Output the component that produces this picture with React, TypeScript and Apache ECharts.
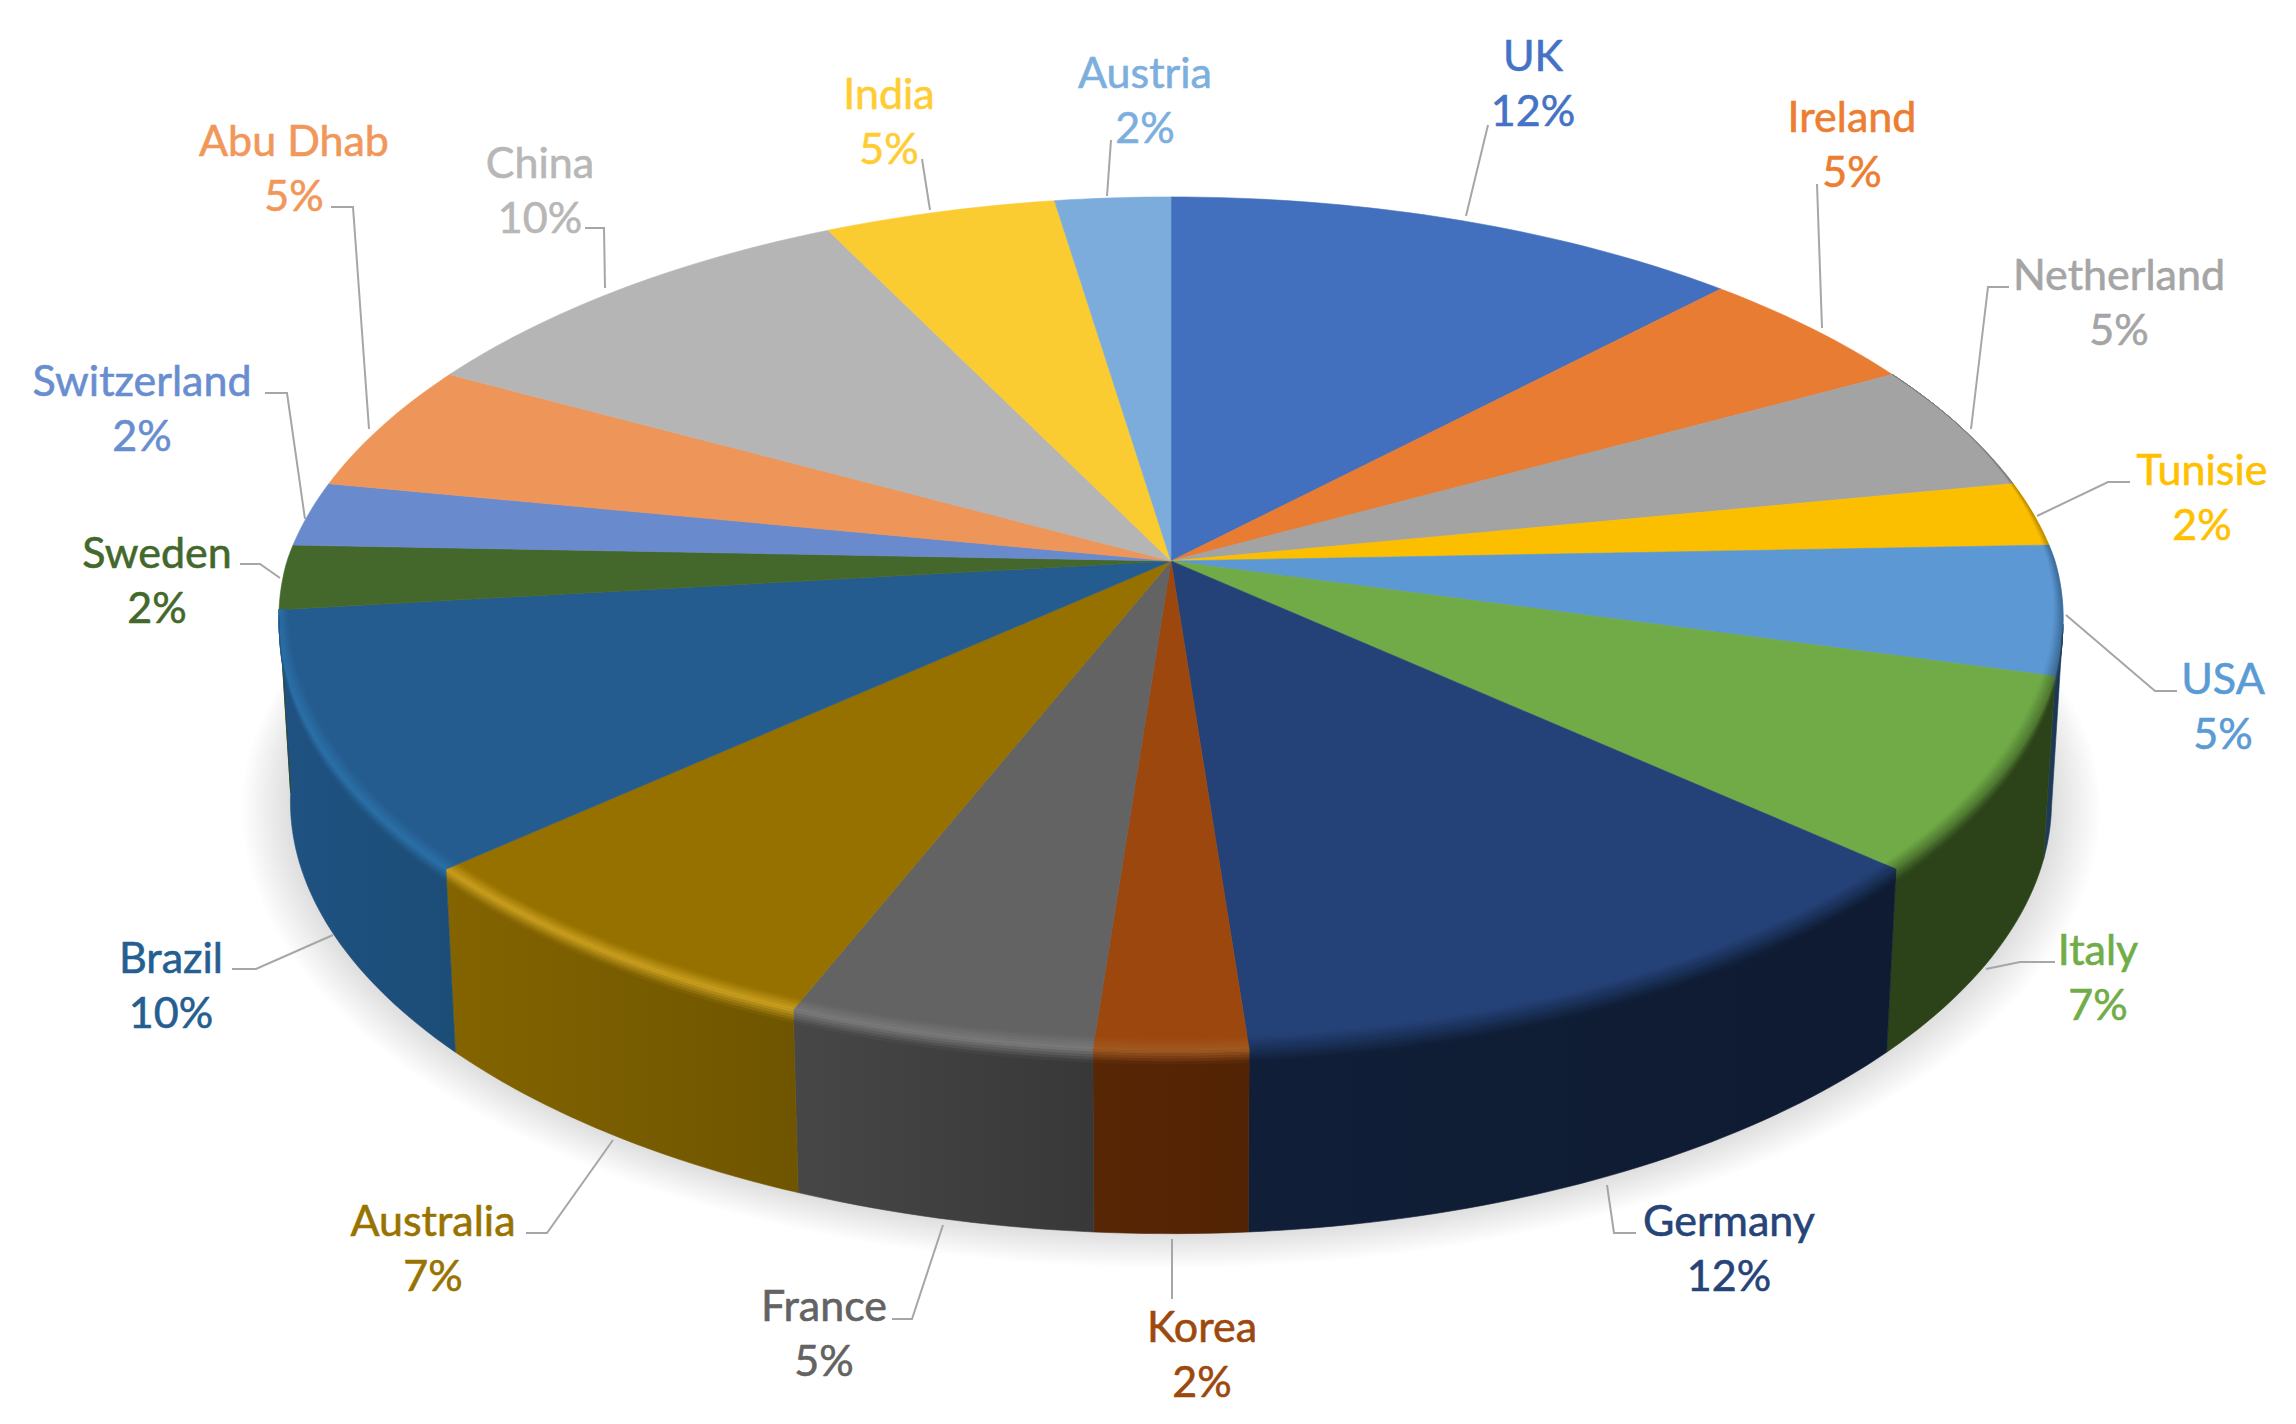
import React, { useEffect, useRef } from "react";
import * as echarts from "echarts";

// ---- data ----
const categories = ["UK", "Ireland", "Netherland", "Tunisie", "USA", "Italy", "Germany", "Korea", "France", "Australia", "Brazil", "Sweden", "Switzerland", "Abu Dhab", "China", "India", "Austria"];
const values = [5, 2, 2, 1, 2, 3, 5, 1, 2, 3, 4, 1, 1, 2, 4, 2, 1];

// ---- styles ----
const topColors = ["#4270be", "#e87c33", "#a3a3a3", "#fbbf00", "#5b98d4", "#70ab47", "#254278", "#9c470e", "#636363", "#967100", "#255c8f", "#44682b", "#698bcd", "#ee9659", "#b5b5b5", "#fbcb32", "#7cacdb"];
const labelColors = ["#4472c4", "#ed7d31", "#a5a5a5", "#ffc000", "#5b9bd5", "#70ad47", "#264478", "#9e480e", "#636363", "#997300", "#255e91", "#43682b", "#698ed0", "#f1975a", "#b7b7b7", "#ffcd33", "#7cafdd"];
const wallLeft = ["#223a6b", "#6a3714", "#494949", "#6e5300", "#1e3d5a", "#2c4319", "#101e37", "#572605", "#474747", "#836400", "#1f5282", "#2d461d", "#3e5479", "#8a5733", "#6a6a6a", "#907520", "#496680"];
const wallRight = ["#223a6b", "#6a3714", "#494949", "#6e5300", "#1a364f", "#2c4319", "#0e1b32", "#522304", "#383838", "#6f5500", "#1c4d77", "#2d461d", "#3e5479", "#8a5733", "#6a6a6a", "#907520", "#496680"];
const highlights: (string | null)[] = [null, null, null, null, null, null, null, "#a05a22", "#7a7a7a", "#cba01f", "#2b70a9", null, null, null, null, null, null];
const bevelled = [false, false, true, true, true, true, true, true, true, true, true, false, false, false, false, false, false];

// label centres (first line) and leader polylines, in page pixels
const labelX = [1533, 1852, 2119, 2202, 2223, 2098, 1729, 1202, 824, 433, 171, 157, 142, 294, 540, 889, 1145];
const labelY1 = [54, 115, 273, 468, 677, 948, 1219, 1325, 1304, 1219, 956, 551, 379, 139, 161, 92, 71];
const leaders: number[][][] = [
  [[1466, 216], [1488, 125]],
  [[1822, 328], [1817, 184]],
  [[1971, 429], [1988, 287], [2009, 287]],
  [[2037, 516], [2108, 482], [2130, 482]],
  [[2066, 615], [2155, 691], [2177, 691]],
  [[1986, 969], [2020, 962], [2055, 962]],
  [[1607, 1185], [1614, 1233], [1636, 1233]],
  [[1172, 1239], [1172, 1299]],
  [[943, 1225], [912, 1319], [892, 1319]],
  [[613, 1140], [547, 1233], [526, 1233]],
  [[333, 935], [256, 969], [232, 969]],
  [[280, 578], [260, 564], [240, 564]],
  [[305, 519], [287, 393], [265, 393]],
  [[369, 429], [353, 207], [331, 207]],
  [[605, 288], [604, 228], [585, 228]],
  [[930, 210], [922, 159]],
  [[1107, 196], [1111, 140]],
];

// ---- projection of the disc ----
const CX = 1171;
const CY = 561;
const A = 884;
const C = 335;
const K = 0.1475;
const KX_BACK = 0.16;
const KX_FRONT = 0.135;
const S = 0.987;
// the side wall faces the viewer only between these two angles (degrees clockwise from the top)
const WALL_FROM = 98.5;
const WALL_TO = 263.5;
const LINE_GAP = 55.6;
const FONT = "Lato";
const FONT_SIZE = 43;

type Pt = [number, number];
const rad = (d: number) => (d * Math.PI) / 180;
const rim = (deg: number): Pt => {
  const u = Math.sin(rad(deg));
  const v = Math.cos(rad(deg));
  const kx = v > 0 ? KX_BACK : KX_FRONT;
  return [CX + (A * u) / (1 + kx * v), (CY - C * v) / (1 + K * v)];
};
const depth = (deg: number) => 183 - 6 * Math.cos(rad(deg));
const bottom = (deg: number): Pt => {
  const p = rim(deg);
  return [CX + (p[0] - CX) * S, CY + (p[1] - CY) * S + depth(deg)];
};
const arc = (a: number, b: number) => {
  const out: number[] = [];
  for (let d = a; d < b; d += 1) out.push(d);
  out.push(b);
  return out;
};
const total = values.reduce((s, v) => s + v, 0);
const starts: number[] = [];
const ends: number[] = [];
values.reduce((acc, v, i) => {
  starts[i] = (acc / total) * 360;
  ends[i] = ((acc + v) / total) * 360;
  return acc + v;
}, 0);
const wallArc = (i: number) => {
  const a = Math.max(starts[i], WALL_FROM);
  const b = Math.min(ends[i], WALL_TO);
  return b > a ? arc(a, b) : null;
};

const hex = (c: string) => [1, 3, 5].map((i) => parseInt(c.slice(i, i + 2), 16));
const mix = (a: string, b: string, t: number) => {
  const x = hex(a);
  const y = hex(b);
  return "#" + x.map((n, i) => Math.round(n + (y[i] - n) * t).toString(16).padStart(2, "0")).join("");
};
const hgrad = (l: string, r: string) =>
  new echarts.graphic.LinearGradient(0, 0, 1, 0, [
    { offset: 0, color: l },
    { offset: 1, color: r },
  ]);

// bevel width along the radius: vanishes towards the back of the disc
const bevelW = (deg: number) => {
  const v = Math.cos(rad(deg));
  return 14 * Math.max(0, Math.min(1, (0.35 - v) / 0.7));
};
const inward = (deg: number, w: number): Pt => {
  const p = rim(deg);
  const dx = p[0] - CX;
  const dy = p[1] - CY;
  const len = Math.hypot(dx, dy);
  return [p[0] - (dx / len) * w, p[1] - (dy / len) * w];
};
const downward = (deg: number, w: number): Pt => {
  const p = rim(deg);
  const b = bottom(deg);
  const d = Math.min(1, w / (b[1] - p[1]));
  return [p[0] + (b[0] - p[0]) * d, p[1] + (b[1] - p[1]) * d];
};

const STRIPS = 5;

const renderShadow = () => {
  const children: any[] = [];
  const layers = 16;
  const cyB = 810;
  const pts0 = arc(0, 360).map(bottom);
  for (let i = layers; i >= 1; i--) {
    const t = i / layers;
    children.push({
      type: "polygon",
      shape: {
        points: pts0.map((p) => [
          CX + (p[0] - CX) * (1 + 0.055 * t),
          cyB + 8 * t + (p[1] - cyB) * (1 + 0.062 * t),
        ]),
      },
      style: { fill: "rgba(0,0,0,0.0095)" },
    });
  }
  return { type: "group", children };
};

const renderWall = (params: any) => {
  const i = params.dataIndex;
  const a = wallArc(i);
  if (!a) return { type: "group", children: [] };
  const points = [...a.map(rim), ...a.slice().reverse().map(bottom)];
  const fill = hgrad(wallLeft[i], wallRight[i]);
  return {
    type: "polygon",
    shape: { points },
    style: { fill, stroke: fill, lineWidth: 0.6 },
  };
};

const renderTop = (params: any) => {
  const i = params.dataIndex;
  const points: Pt[] = [[CX, CY], ...arc(starts[i], ends[i]).map(rim)];
  return {
    type: "polygon",
    shape: { points },
    style: { fill: topColors[i], stroke: topColors[i], lineWidth: 0.6 },
  };
};

const renderBevel = (params: any) => {
  const i = params.dataIndex;
  if (!bevelled[i]) return { type: "group", children: [] };
  const a = arc(starts[i], ends[i]);
  const wallMid = mix(wallLeft[i], wallRight[i], 0.5);
  const mid = highlights[i] ?? mix(topColors[i], wallMid, 0.5);
  const children: any[] = [];
  // the part on the top face: face colour -> highlight
  for (let s = 0; s < STRIPS; s++) {
    const w0 = 1 - s / STRIPS;
    const w1 = 1 - (s + 1) / STRIPS;
    const t = (s + 0.5) / STRIPS;
    const col = mix(topColors[i], mid, t);
    const pts = [
      ...a.map((d) => inward(d, bevelW(d) * w0)),
      ...a.slice().reverse().map((d) => inward(d, bevelW(d) * w1)),
    ];
    children.push({ type: "polygon", shape: { points: pts }, style: { fill: col, stroke: col, lineWidth: 0.5 } });
  }
  // the part on the wall: highlight -> wall colour
  const wa = wallArc(i);
  if (wa) {
    for (let s = 0; s < STRIPS; s++) {
      const w0 = (s / STRIPS) * 13;
      const w1 = ((s + 1) / STRIPS) * 13;
      const t = (s + 0.5) / STRIPS;
      const fill = hgrad(mix(mid, wallLeft[i], t), mix(mid, wallRight[i], t));
      const pts = [
        ...wa.map((d) => downward(d, w0)),
        ...wa.slice().reverse().map((d) => downward(d, w1)),
      ];
      children.push({ type: "polygon", shape: { points: pts }, style: { fill, stroke: fill, lineWidth: 0.5 } });
    }
  }
  return { type: "group", children };
};

const renderLabel = (params: any) => {
  const i = params.dataIndex;
  const pct = `${Math.round((values[i] / total) * 100)}%`;
  const text = (s: string, y: number) => ({
    type: "text",
    style: {
      text: s,
      x: labelX[i],
      y,
      align: "center",
      verticalAlign: "middle",
      fontFamily: FONT,
      fontSize: FONT_SIZE,
      fill: labelColors[i],
      stroke: labelColors[i],
      lineWidth: 0.6,
    },
  });
  return {
    type: "group",
    children: [
      {
        type: "polyline",
        shape: { points: leaders[i] },
        style: { stroke: "#a6a6a6", lineWidth: 2, fill: "none" },
      },
      text(categories[i], labelY1[i]),
      text(pct, labelY1[i] + LINE_GAP),
    ],
  };
};

export default function App() {
  const ref = useRef<HTMLDivElement>(null);
  useEffect(() => {
    const chart = echarts.init(ref.current!, undefined, { renderer: "svg" });
    const common = { type: "custom", coordinateSystem: "none", silent: true, clip: false };
    const idx = categories.map((_, i) => i);
    chart.setOption({
      animation: false,
      backgroundColor: "#ffffff",
      series: [
        { ...common, z: 1, data: [0], renderItem: renderShadow },
        { ...common, z: 2, data: idx, renderItem: renderWall },
        { ...common, z: 3, data: idx, renderItem: renderTop },
        { ...common, z: 4, data: idx, renderItem: renderBevel },
        { ...common, z: 5, data: idx, renderItem: renderLabel },
      ],
    });
    return () => chart.dispose();
  }, []);
  return <div ref={ref} style={{ position: "fixed", left: 0, top: 0, width: 2296, height: 1424 }} />;
}
